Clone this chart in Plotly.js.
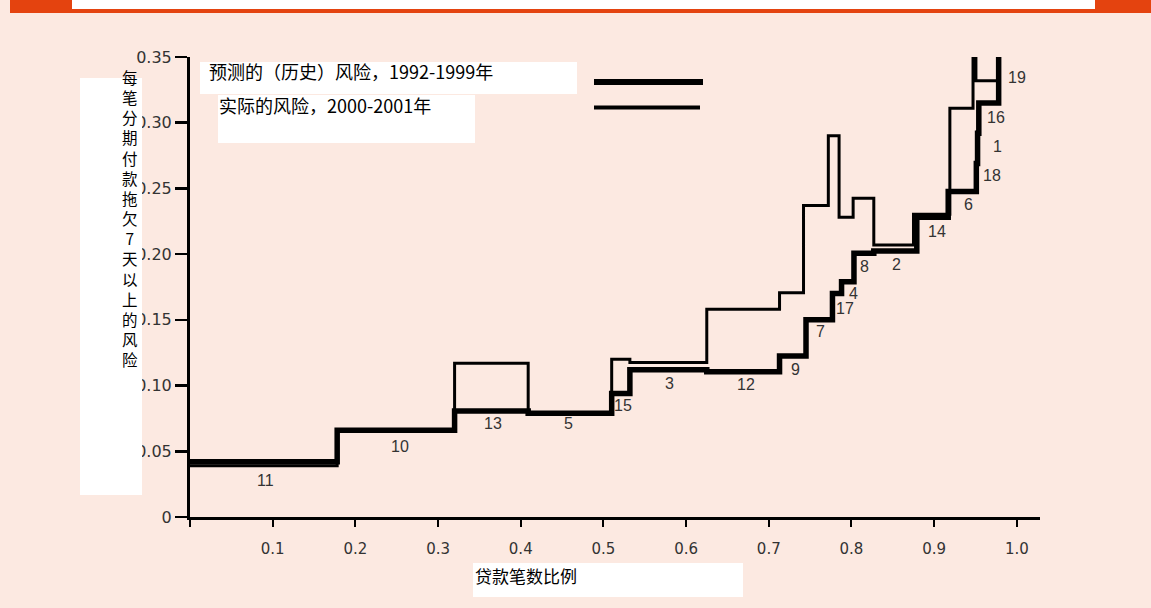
<!DOCTYPE html>
<html>
<head>
<meta charset="utf-8">
<script src="https://cdn.plot.ly/plotly-3.0.1.min.js"></script>
<style>html,body{margin:0;padding:0;background:#fce9e1;}#chart{width:1151px;height:608px;}</style>
</head>
<body>
<div id="chart"></div>
<script>
// Predicted (historical) risk 1992-1999 — thick step line
const predX = [0, 0.178, 0.32, 0.409, 0.51, 0.532, 0.625, 0.713, 0.745, 0.777, 0.788, 0.803, 0.827, 0.879, 0.917, 0.951, 0.9525, 0.954, 0.978];
const predY = [0.042, 0.066, 0.0807, 0.079, 0.094, 0.112, 0.1106, 0.1225, 0.150, 0.170, 0.179, 0.2007, 0.2024, 0.228, 0.2476, 0.269, 0.292, 0.315, 0.40];
// Actual risk 2000-2001 — thin step line
const actX = [0, 0.178, 0.32, 0.409, 0.51, 0.532, 0.625, 0.713, 0.742, 0.772, 0.785, 0.802, 0.827, 0.875, 0.919, 0.947, 0.9505, 0.977];
const actY = [0.039, 0.065, 0.117, 0.079, 0.120, 0.1175, 0.158, 0.1707, 0.237, 0.290, 0.228, 0.2425, 0.207, 0.2304, 0.311, 0.40, 0.332, 0.40];
// Segment number labels
const segLabels = ['11','10','13','5','15','3','12','9','7','17','4','8','2','14','6','18','1','16','19'];
const segLabelX = [0.091, 0.254, 0.366, 0.458, 0.524, 0.580, 0.672, 0.732, 0.762, 0.792, 0.802, 0.816, 0.855, 0.903, 0.941, 0.970, 0.976, 0.975, 1.0];
const segLabelY = [0.028, 0.054, 0.0708, 0.0708, 0.0845, 0.1012, 0.1005, 0.1119, 0.1408, 0.1583, 0.1697, 0.1903, 0.1918, 0.2169, 0.2374, 0.2595, 0.2816, 0.3037, 0.3341];
// Axis ticks
const xTickVals = [0, 0.1, 0.2, 0.3, 0.4, 0.5, 0.6, 0.7, 0.8, 0.9, 1.0];
const xTickText = ['', '0.1', '0.2', '0.3', '0.4', '0.5', '0.6', '0.7', '0.8', '0.9', '1.0'];
const yTickVals = [0, 0.05, 0.10, 0.15, 0.20, 0.25, 0.30, 0.35];
const yTickText = ['0', '0.05', '0.10', '0.15', '0.20', '0.25', '0.30', '0.35'];
// Texts
const legendPred = '预测的（历史）风险，1992-1999年';
const legendAct = '实际的风险，2000-2001年';
const xTitle = '贷款笔数比例';
const yTitle = '每笔分期付款拖欠7天以上的风险';

// pixel -> paper helpers (plot area: x 190..1040, y 57..517)
const PL = 190, PW = 850, PB = 517, PH = 460;
const px = p => (p - PL) / PW;
const py = p => (PB - p) / PH;

const cjk = '"Noto Sans CJK SC", "Noto Sans", sans-serif';
const num = '"DejaVu Sans", sans-serif';

const traces = [
  {x: actX, y: actY, type: 'scatter', mode: 'lines', line: {shape: 'hv', color: '#000', width: 3}, showlegend: false, hoverinfo: 'skip'},
  {x: predX, y: predY, type: 'scatter', mode: 'lines', line: {shape: 'hv', color: '#000', width: 5.5}, showlegend: false, hoverinfo: 'skip'}
];

const annotations = [];
segLabels.forEach((t, i) => annotations.push({
  x: segLabelX[i], y: segLabelY[i], xref: 'x', yref: 'y', text: t, showarrow: false,
  font: {family: '"Liberation Sans", Arial, sans-serif', size: 16, color: '#333'}
}));
annotations.push({x: px(207), y: py(71), xref: 'paper', yref: 'paper', xanchor: 'left', yanchor: 'middle', text: legendPred, showarrow: false, font: {family: cjk, size: 18, color: '#000'}});
annotations.push({x: px(217), y: py(105), xref: 'paper', yref: 'paper', xanchor: 'left', yanchor: 'middle', text: legendAct, showarrow: false, font: {family: cjk, size: 18, color: '#000'}});
annotations.push({x: px(473), y: py(575), xref: 'paper', yref: 'paper', xanchor: 'left', yanchor: 'middle', text: xTitle, showarrow: false, font: {family: cjk, size: 17, color: '#000'}});
annotations.push({
  x: px(130), y: py(218), xref: 'paper', yref: 'paper', xanchor: 'center', yanchor: 'middle',
  text: Array.from(yTitle).join('<br>'), showarrow: false, font: {family: cjk, size: 15.5, color: '#000'}
});

const shapes = [
  // top banner
  {type: 'rect', xref: 'paper', yref: 'paper', x0: px(10), x1: px(1151), y0: py(13), y1: py(0), fillcolor: '#e4430f', line: {width: 0}, layer: 'above'},
  {type: 'rect', xref: 'paper', yref: 'paper', x0: px(72), x1: px(1095), y0: py(9), y1: py(0), fillcolor: '#ffffff', line: {width: 0}, layer: 'above'},
  // white boxes
  {type: 'rect', xref: 'paper', yref: 'paper', x0: px(80), x1: px(142), y0: py(495), y1: py(78), fillcolor: '#ffffff', line: {width: 0}, layer: 'above'},
  {type: 'rect', xref: 'paper', yref: 'paper', x0: px(200), x1: px(577), y0: py(94), y1: py(62), fillcolor: '#ffffff', line: {width: 0}, layer: 'above'},
  {type: 'rect', xref: 'paper', yref: 'paper', x0: px(218), x1: px(475), y0: py(143), y1: py(95), fillcolor: '#ffffff', line: {width: 0}, layer: 'above'},
  {type: 'rect', xref: 'paper', yref: 'paper', x0: px(473), x1: px(743), y0: py(597), y1: py(563), fillcolor: '#ffffff', line: {width: 0}, layer: 'above'},
  // legend samples
  {type: 'line', xref: 'paper', yref: 'paper', x0: px(594), x1: px(703), y0: py(82), y1: py(82), line: {color: '#000', width: 6}, layer: 'above'},
  {type: 'line', xref: 'paper', yref: 'paper', x0: px(594), x1: px(700), y0: py(107.5), y1: py(107.5), line: {color: '#000', width: 4}, layer: 'above'}
];

const layout = {
  width: 1151, height: 608, autosize: false,
  margin: {l: PL, r: 1151 - PL - PW, t: PB - PH, b: 608 - PB, pad: 0},
  paper_bgcolor: '#fce9e1', plot_bgcolor: '#fce9e1',
  showlegend: false,
  xaxis: {
    range: [0, 1.028], showgrid: false, zeroline: false, showline: true, linecolor: '#000', linewidth: 3,
    ticks: 'outside', ticklen: 7, tickwidth: 2, tickcolor: '#000',
    tickmode: 'array', tickvals: xTickVals, ticktext: xTickText, ticklabelstandoff: 9,
    tickfont: {family: num, size: 15, color: '#333'}
  },
  yaxis: {
    range: [0, 0.35], showgrid: false, zeroline: false, showline: true, linecolor: '#000', linewidth: 3,
    ticks: 'outside', ticklen: 12, tickwidth: 2.5, tickcolor: '#000',
    tickmode: 'array', tickvals: yTickVals, ticktext: yTickText, ticklabelstandoff: 0,
    tickfont: {family: num, size: 16, color: '#333'}
  },
  annotations: annotations,
  shapes: shapes
};

Plotly.newPlot('chart', traces, layout, {displayModeBar: false, staticPlot: true});
</script>
</body>
</html>
